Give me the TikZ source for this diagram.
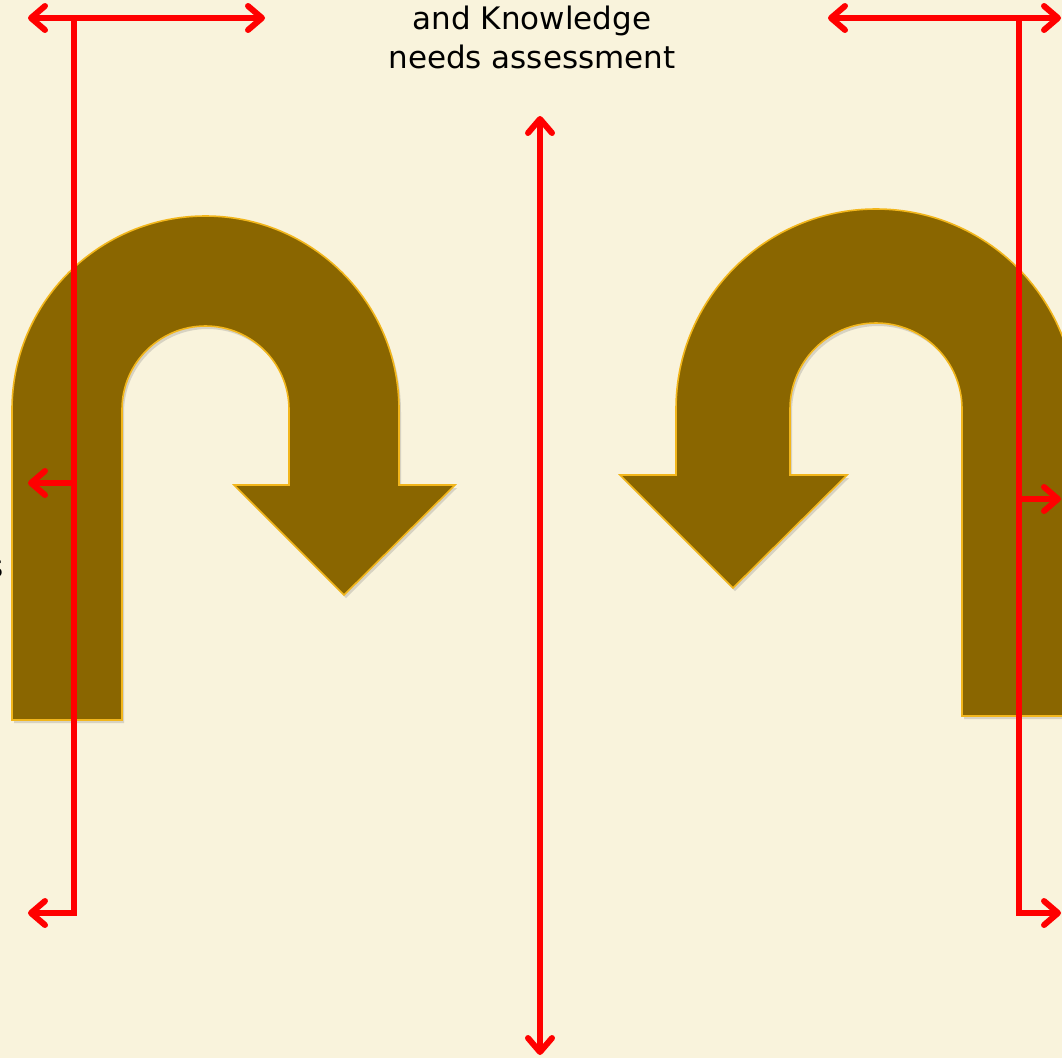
\documentclass[tikz,border=0pt]{standalone}
\usepackage{fontspec}
\setmainfont{DejaVu Sans}
\usetikzlibrary{arrows.meta,shadows}
\definecolor{bgcream}{HTML}{F9F3DC}
\definecolor{uturn}{HTML}{8A6600}
\definecolor{uturnline}{HTML}{F2B61C}
\definecolor{redline}{HTML}{FF0000}
\tikzset{
  uturnshape/.style={fill=uturn, draw=uturnline, line width=1.6pt, line join=miter,
    drop shadow={opacity=0.28, shadow xshift=2pt, shadow yshift=-3pt}},
  redconn/.style={draw=redline, line width=6pt, line join=miter},
  redtip/.style={-{Straight Barb[length=14pt,width=24pt,round]}},
  redtips/.style={{Straight Barb[length=14pt,width=24pt,round]}-{Straight Barb[length=14pt,width=24pt,round]}},
  titletext/.style={font=\fontsize{31}{39}\selectfont, align=center, inner sep=0pt, text=black}
}
\begin{document}
\begin{tikzpicture}[x=1pt,y=1pt]
\fill[bgcream] (0,0) rectangle (1062,-1058);
\useasboundingbox (0,0) rectangle (1062,-1058);

% left U-turn arrow
\path[uturnshape] (12,-720) -- (12,-409.5) arc[start angle=180,end angle=0,radius=193.5pt]
  -- (399,-485) -- (455,-485) -- (344,-595) -- (234,-485) -- (289,-485) -- (289,-409.5)
  arc[start angle=0,end angle=180,radius=83.5pt] -- (122,-720) -- cycle;

% right U-turn arrow
\path[uturnshape] (1076,-716) -- (1076,-409) arc[start angle=0,end angle=180,radius=200pt]
  -- (676,-475) -- (620,-475) -- (733,-588) -- (847,-475) -- (790,-475) -- (790,-409)
  arc[start angle=180,end angle=0,radius=86pt] -- (962,-716) -- cycle;

% title text
\node[titletext, anchor=north] (title) at (532,-6) {and Knowledge\\needs assessment};
\node[font=\fontsize{31}{39}\selectfont, inner sep=0pt, anchor=base east] (frag) at (4,-577) {s};

% coordinates
\coordinate (LTl) at (28,-18);
\coordinate (LTr) at (265,-18);
\coordinate (LTj) at (74,-18);
\coordinate (LMj) at (74,-483);
\coordinate (LMe) at (28,-483);
\coordinate (LBj) at (74,-913);
\coordinate (LBe) at (28,-913);

\coordinate (RTl) at (828,-18);
\coordinate (RTr) at (1061,-18);
\coordinate (RTj) at (1019,-18);
\coordinate (RMj) at (1019,-499);
\coordinate (RMe) at (1061,-499);
\coordinate (RBj) at (1019,-913);
\coordinate (RBe) at (1061,-913);

\coordinate (Ctop) at (540,-116);
\coordinate (Cbot) at (540,-1055);

% left red connector system
\draw[redconn, redtips] (LTl) -- (LTr);
\draw[redconn, redtip] (LTj) -- (LBj) -- (LBe);
\draw[redconn, redtip] (LMj) -- (LMe);

% right red connector system
\draw[redconn, redtips] (RTl) -- (RTr);
\draw[redconn, redtip] (RTj) -- (RBj) -- (RBe);
\draw[redconn, redtip] (RMj) -- (RMe);

% centre
\draw[redconn, redtips] (Ctop) -- (Cbot);
\end{tikzpicture}
\end{document}
